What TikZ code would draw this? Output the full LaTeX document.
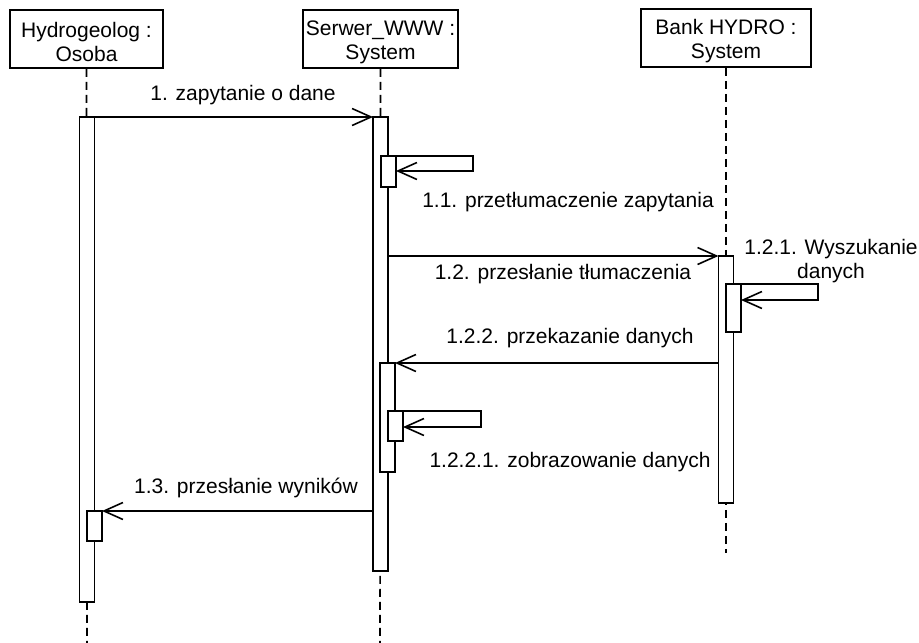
\documentclass[tikz,border=0pt]{standalone}
\usepackage{fontspec}
\setmainfont{Liberation Sans}
\usetikzlibrary{arrows.meta,positioning}
\newcommand{\astrut}{\rule{0pt}{21pt}}
\tikzset{
  actor/.style={draw,line width=1.6pt,align=center,minimum height=58pt,inner sep=0pt},
  activ/.style={draw,fill=white,line width=1.6pt,minimum width=15pt,inner sep=0pt,outer sep=0pt},
  life/.style={line width=1.6pt,dash pattern=on 8pt off 5pt},
  msg/.style={line width=1.6pt,-{Straight Barb[length=19pt,width=17pt]}},
  lbl/.style={inner sep=0pt}
}

\begin{document}
\begin{tikzpicture}[x=1pt,y=-1pt,font=\fontsize{21}{24}\selectfont]
    \useasboundingbox (0,0) rectangle (919,643);
    % obiekty
    \node[actor,minimum width=153pt] (hyd) at (86.5,39) {\astrut Hydrogeolog :\\Osoba};
    \node[actor,minimum width=155pt] (srv) at (380.5,39) {\astrut Serwer\_WWW :\\System};
    \node[actor,minimum width=170pt] (bnk) at (726,38) {\astrut Bank HYDRO :\\System};
    % linie zycia
    \coordinate (hydE) at (87,643);
    \coordinate (srvE) at (380,643);
    \coordinate (bnkE) at (726,553);
    \draw[life] (hyd.south) -- (hydE);
    \draw[life] (srv.south) -- (srvE);
    \draw[life] (bnk.south) -- (bnkE);
    % aktywacje
    \node[activ,minimum height=485pt] (hydA) at (87,359.5) {};
    \node[activ,minimum height=30pt] (hydB) at (94.5,526) {};
    \node[activ,minimum height=454pt] (srvA) at (380.5,344) {};
    \node[activ,minimum height=31pt] (srvB) at (388.5,171.5) {};
    \node[activ,minimum height=109pt] (srvC) at (387.5,417.5) {};
    \node[activ,minimum height=30pt] (srvD) at (395.5,426) {};
    \node[activ,minimum height=247pt] (bnkA) at (726,379.5) {};
    \node[activ,minimum height=48pt] (bnkB) at (733.5,308) {};
    % komunikaty
    \draw[msg] (hydA.north east) -- (srvA.north west);
    \draw[msg] (srvB.north east) -- ++(77,0) -- ++(0,15) -- ++(-77,0);
    \draw[msg] (srvA.east |- bnkA.north) -- (bnkA.north west);
    \draw[msg] (bnkB.north east) -- ++(77,0) -- ++(0,16) -- ++(-77,0);
    \draw[msg] (bnkA.west |- srvC.north) -- (srvC.north east);
    \draw[msg] (srvD.north east) -- ++(78,0) -- ++(0,16) -- ++(-78,0);
    \draw[msg] (srvA.west |- hydB.north) -- (hydB.north east);
    % opisy
    \node[lbl] (m1) at (243,95) {1. zapytanie o dane};
    \node[lbl] (m11) at (568,202) {1.1. przetłumaczenie zapytania};
    \node[lbl] (m12) at (563,274) {1.2. przesłanie tłumaczenia};
    \node[lbl,align=center] (m121) at (831,261) {1.2.1. Wyszukanie\\danych};
    \node[lbl] (m122) at (570,338) {1.2.2. przekazanie danych};
    \node[lbl] (m1221) at (570,462) {1.2.2.1. zobrazowanie danych};
    \node[lbl] (m13) at (246,488) {1.3. przesłanie wyników};
\end{tikzpicture}
\end{document}
